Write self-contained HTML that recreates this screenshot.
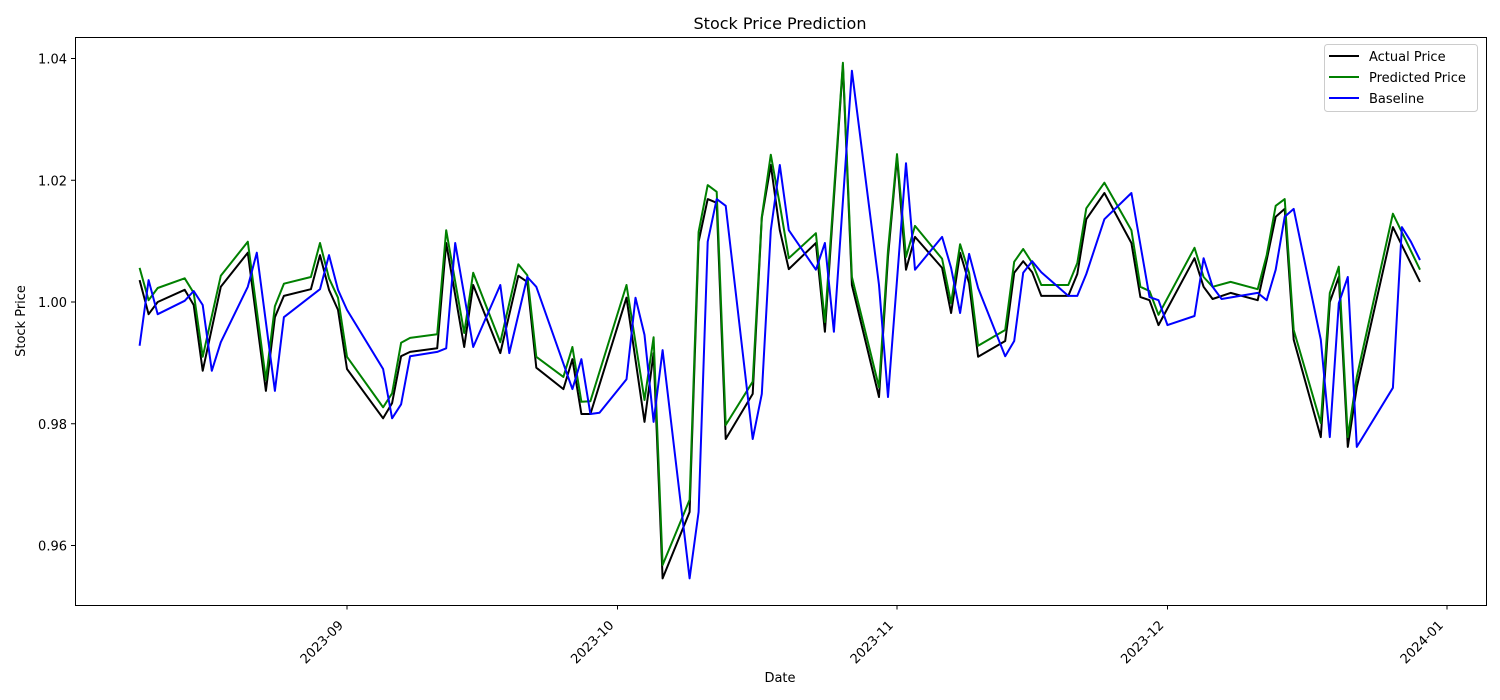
<!DOCTYPE html>
<html><head><meta charset="utf-8"><style>
html,body{margin:0;padding:0;background:#fff;}
svg{display:block;font-family:"DejaVu Sans","Liberation Sans",sans-serif;}
</style></head><body>
<svg id="chart" width="1500" height="700" viewBox="0 0 1500 700">
<rect x="0" y="0" width="1500" height="700" fill="#fff"/>
<text x="780" y="29" font-size="16" text-anchor="middle">Stock Price Prediction</text>
<g id="grid"></g>
<g id="series"></g>
<rect x="75.5" y="37.5" width="1411" height="568" fill="none" stroke="#000" stroke-width="1"/>
<g id="xaxis"></g><g id="yaxis"></g>
<text x="780" y="682" font-size="13" text-anchor="middle">Date</text>
<text transform="translate(25,321) rotate(-90)" font-size="13" text-anchor="middle">Stock Price</text>
<g>
<rect x="1324.5" y="44.5" width="153" height="67" rx="3" fill="#fff" fill-opacity="0.8" stroke="#ccc"/>
<g><line x1="1329" y1="56" x2="1359" y2="56" stroke="#000" stroke-width="2"/><text x="1369" y="61" font-size="13">Actual Price</text></g>
<g><line x1="1329" y1="77" x2="1359" y2="77" stroke="#008000" stroke-width="2"/><text x="1369" y="82" font-size="13">Predicted Price</text></g>
<g><line x1="1329" y1="98" x2="1359" y2="98" stroke="#0000ff" stroke-width="2"/><text x="1369" y="103" font-size="13">Baseline</text></g>
</g>
</svg>
<script>
const actualDates = ["2023-08-09","2023-08-10","2023-08-11","2023-08-14","2023-08-15","2023-08-16","2023-08-18","2023-08-21","2023-08-23","2023-08-24","2023-08-25","2023-08-28","2023-08-29","2023-08-30","2023-08-31","2023-09-01","2023-09-05","2023-09-06","2023-09-07","2023-09-08","2023-09-11","2023-09-12","2023-09-14","2023-09-15","2023-09-18","2023-09-20","2023-09-21","2023-09-22","2023-09-25","2023-09-26","2023-09-27","2023-09-28","2023-10-02","2023-10-04","2023-10-05","2023-10-06","2023-10-09","2023-10-10","2023-10-11","2023-10-12","2023-10-13","2023-10-16","2023-10-17","2023-10-18","2023-10-19","2023-10-20","2023-10-23","2023-10-24","2023-10-26","2023-10-27","2023-10-30","2023-10-31","2023-11-01","2023-11-02","2023-11-03","2023-11-06","2023-11-07","2023-11-08","2023-11-09","2023-11-10","2023-11-13","2023-11-14","2023-11-15","2023-11-16","2023-11-17","2023-11-20","2023-11-21","2023-11-22","2023-11-24","2023-11-27","2023-11-28","2023-11-29","2023-11-30","2023-12-04","2023-12-05","2023-12-06","2023-12-08","2023-12-11","2023-12-12","2023-12-13","2023-12-14","2023-12-15","2023-12-18","2023-12-19","2023-12-20","2023-12-21","2023-12-22","2023-12-26","2023-12-29"];
const actualValues = [1.0036,0.9980,1.0000,1.0020,0.9995,0.9887,1.0025,1.0081,0.9854,0.9975,1.0010,1.0021,1.0077,1.0020,0.9987,0.9890,0.9809,0.9834,0.9911,0.9918,0.9924,1.0097,0.9926,1.0028,0.9916,1.0043,1.0033,0.9892,0.9857,0.9906,0.9816,0.9816,1.0007,0.9803,0.9916,0.9546,0.9655,1.0099,1.0169,1.0163,0.9775,0.9849,1.0138,1.0225,1.0118,1.0054,1.0097,0.9951,1.0389,1.0028,0.9844,1.0074,1.0238,1.0053,1.0107,1.0056,0.9982,1.0081,1.0031,0.9910,0.9936,1.0048,1.0067,1.0049,1.0010,1.0010,1.0046,1.0136,1.0179,1.0097,1.0008,1.0003,0.9962,1.0072,1.0025,1.0005,1.0015,1.0003,1.0069,1.0140,1.0153,0.9938,0.9778,1.0000,1.0041,0.9762,0.9860,1.0123,1.0033];
const predictedValues = [1.0056,1.0003,1.0023,1.0039,1.0015,0.9910,1.0043,1.0099,0.9872,0.9993,1.0030,1.0041,1.0097,1.0039,1.0007,0.9910,0.9827,0.9850,0.9933,0.9941,0.9947,1.0118,0.9949,1.0048,0.9934,1.0062,1.0044,0.9910,0.9877,0.9926,0.9836,0.9837,1.0028,0.9839,0.9942,0.9568,0.9675,1.0115,1.0192,1.0181,0.9798,0.9869,1.0140,1.0242,1.0160,1.0072,1.0113,0.9967,1.0393,1.0041,0.9860,1.0085,1.0243,1.0074,1.0125,1.0071,0.9998,1.0095,1.0048,0.9928,0.9954,1.0066,1.0087,1.0064,1.0028,1.0028,1.0064,1.0154,1.0196,1.0118,1.0025,1.0018,0.9979,1.0089,1.0041,1.0025,1.0033,1.0021,1.0077,1.0158,1.0169,0.9954,0.9801,1.0015,1.0058,0.9778,0.9877,1.0145,1.0053];
const baselineDates = ["2023-08-09","2023-08-10","2023-08-11","2023-08-14","2023-08-15","2023-08-16","2023-08-17","2023-08-18","2023-08-21","2023-08-22","2023-08-24","2023-08-25","2023-08-29","2023-08-30","2023-08-31","2023-09-01","2023-09-05","2023-09-06","2023-09-07","2023-09-08","2023-09-11","2023-09-12","2023-09-13","2023-09-15","2023-09-18","2023-09-19","2023-09-21","2023-09-22","2023-09-26","2023-09-27","2023-09-28","2023-09-29","2023-10-02","2023-10-03","2023-10-04","2023-10-05","2023-10-06","2023-10-09","2023-10-10","2023-10-11","2023-10-12","2023-10-13","2023-10-16","2023-10-17","2023-10-18","2023-10-19","2023-10-20","2023-10-23","2023-10-24","2023-10-25","2023-10-27","2023-10-30","2023-10-31","2023-11-02","2023-11-03","2023-11-06","2023-11-07","2023-11-08","2023-11-09","2023-11-10","2023-11-13","2023-11-14","2023-11-15","2023-11-16","2023-11-17","2023-11-20","2023-11-21","2023-11-22","2023-11-24","2023-11-27","2023-11-29","2023-11-30","2023-12-01","2023-12-04","2023-12-05","2023-12-06","2023-12-07","2023-12-11","2023-12-12","2023-12-13","2023-12-14","2023-12-15","2023-12-18","2023-12-19","2023-12-20","2023-12-21","2023-12-22","2023-12-26","2023-12-27","2023-12-28","2023-12-29"];
const baselineValues = [0.9928,1.0036,0.9980,1.0002,1.0018,0.9995,0.9887,0.9934,1.0025,1.0081,0.9854,0.9975,1.0021,1.0077,1.0020,0.9987,0.9890,0.9809,0.9832,0.9911,0.9918,0.9924,1.0097,0.9926,1.0028,0.9916,1.0041,1.0025,0.9857,0.9906,0.9816,0.9818,0.9873,1.0007,0.9946,0.9803,0.9921,0.9546,0.9655,1.0099,1.0169,1.0158,0.9775,0.9849,1.0118,1.0225,1.0118,1.0053,1.0097,0.9951,1.0380,1.0028,0.9844,1.0228,1.0053,1.0107,1.0056,0.9982,1.0079,1.0023,0.9911,0.9936,1.0048,1.0067,1.0049,1.0010,1.0010,1.0046,1.0136,1.0179,1.0008,1.0003,0.9962,0.9977,1.0072,1.0025,1.0005,1.0015,1.0003,1.0053,1.0140,1.0153,0.9938,0.9778,0.9998,1.0041,0.9762,0.9859,1.0123,1.0099,1.0069];
const xTickLabels = ["2023-09","2023-10","2023-11","2023-12","2024-01"];
const yTickValues = [0.96,0.98,1.00,1.02,1.04];
const yTickLabels = ["0.96","0.98","1.00","1.02","1.04"];

const NS="http://www.w3.org/2000/svg";
const t0=Date.UTC(2023,8,1), t1=Date.UTC(2024,0,1);
function dayOf(s){const p=s.split("-");return Date.UTC(+p[0],+p[1]-1,+(p[2]||1));}
function xScale(s){return 347+(dayOf(s)-t0)/(t1-t0)*(1447-347);}
function yScale(v){return 302-(v-1.0)/0.04*243.5;}
function mk(tag,attrs,parent){const e=document.createElementNS(NS,tag);for(const k in attrs)e.setAttribute(k,attrs[k]);parent.appendChild(e);return e;}
const xa=document.getElementById("xaxis"), ya=document.getElementById("yaxis"), sg=document.getElementById("series");
xTickLabels.forEach(function(lab){
  const x=xScale(lab);
  const tk=mk("line",{x1:x,y1:605.5,x2:x,y2:609.5,stroke:"#000"},xa);
  
  
  const tx=mk("text",{x:0,y:0,"font-size":"13","text-anchor":"end",transform:"translate("+(x-3)+",626) rotate(-45)"},xa);
  tx.textContent=lab;
  
  
});
yTickValues.forEach(function(v,i){
  const y=yScale(v);
  const tk=mk("line",{x1:71,y1:y,x2:75.5,y2:y,stroke:"#000"},ya);
  
  
  const tx=mk("text",{x:67,y:y+5,"font-size":"13","text-anchor":"end"},ya);
  tx.textContent=yTickLabels[i];
  
  
});
function drawLine(dates,vals,color,name){
  const pts=dates.map(function(d,i){return xScale(d).toFixed(1)+","+yScale(vals[i]).toFixed(1);}).join(" ");
  const pl=mk("polyline",{points:pts,fill:"none",stroke:color,"stroke-width":"2","stroke-linejoin":"round"},sg);
  
  
}
drawLine(actualDates,actualValues,"#000","actual-price-line");
drawLine(actualDates,predictedValues,"#008000","predicted-price-line");
drawLine(baselineDates,baselineValues,"#0000ff","baseline-line");
</script>
</body></html>
